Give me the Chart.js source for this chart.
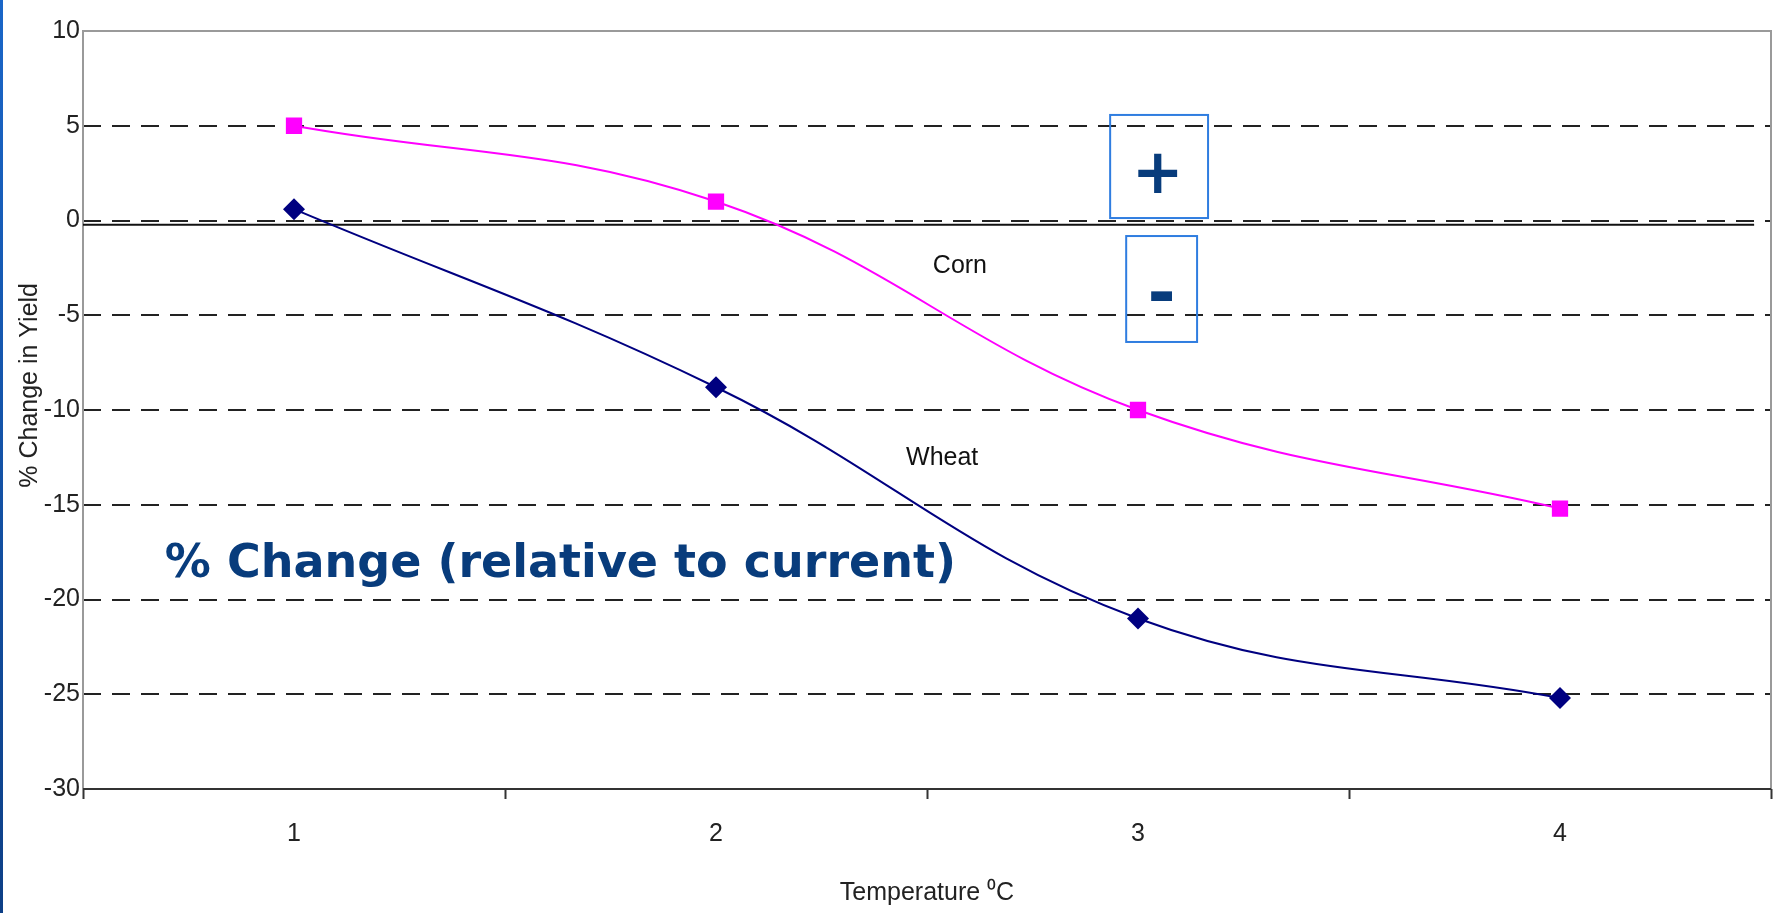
<!DOCTYPE html>
<html><head><meta charset="utf-8">
<script src="https://cdn.jsdelivr.net/npm/chart.js@4.4.1/dist/chart.umd.min.js"></script>
<style>
html,body{margin:0;padding:0;background:#fff;}
#wrap{position:relative;width:1784px;height:913px;}
#edge{position:absolute;left:0;top:0;width:3px;height:913px;background:linear-gradient(#1a66c8,#0d3f86);}
</style></head><body>
<div id="wrap"><canvas id="c"></canvas><div id="edge"></div></div>
<script>
// ---- data ----
const temperatures = ['1', '2', '3', '4'];
const cornChange = [5, 1, -10, -15.2];
const wheatChange = [0.6, -8.8, -21, -25.2];
const yMin = -30, yMax = 10, yStep = 5;
const xTitle = 'Temperature \u2070C';
const yTitle = '% Change in Yield';

const SANS = '"Liberation Sans", Arial, sans-serif';

// ---- annotations (in data units: x = category index, y = % change) ----
const textNotes = [
  {text: 'Corn', x: 1.578, y: -2.4, font: '25px ' + SANS, color: '#111', align: 'center'},
  {text: 'Wheat', x: 1.536, y: -12.53, font: '25px ' + SANS, color: '#111', align: 'center'},
  {text: '% Change (relative to current)', x: -0.306, y: -18.2, font: 'bold 46px "DejaVu Sans", Verdana, sans-serif', color: '#083c7c', align: 'left'},
  {text: '+', x: 2.047, y: 2.3, font: 'bold 62px "DejaVu Sans", sans-serif', color: '#083c7c', align: 'center'},
  {text: '-', x: 2.056, y: -4.1, font: 'bold 68px "DejaVu Sans", sans-serif', color: '#083c7c', align: 'center'}
];
const boxNotes = [
  {x0: 1.934, x1: 2.166, y0: 5.57, y1: 0.13},
  {x0: 1.972, x1: 2.140, y0: -0.82, y1: -6.41}
];
const zeroLine = {y: -0.22, x0: -0.5, x1: 3.46};
const yTitleCenter = -8.7;

const notesPlugin = {
  id: 'notes',
  beforeDatasetsDraw(chart) {
    const {ctx, chartArea: a, scales: {x, y}} = chart;
    ctx.save();
    ctx.lineWidth = 2;
    ctx.strokeStyle = '#9a9a9a';
    ctx.beginPath();
    ctx.moveTo(a.left, a.bottom); ctx.lineTo(a.left, a.top); ctx.lineTo(a.right, a.top); ctx.lineTo(a.right, a.bottom);
    ctx.stroke();
    ctx.strokeStyle = '#333';
    ctx.beginPath(); ctx.moveTo(a.left, a.bottom); ctx.lineTo(a.right, a.bottom); ctx.stroke();
    ctx.strokeStyle = '#111';
    ctx.beginPath();
    const zy = y.getPixelForValue(zeroLine.y);
    ctx.moveTo(x.getPixelForValue(zeroLine.x0), zy);
    ctx.lineTo(x.getPixelForValue(zeroLine.x1), zy);
    ctx.stroke();
    // y axis title
    ctx.translate(30, y.getPixelForValue(yTitleCenter));
    ctx.rotate(-Math.PI / 2);
    ctx.font = '25px ' + SANS;
    ctx.fillStyle = '#222';
    ctx.textAlign = 'center';
    ctx.textBaseline = 'middle';
    ctx.fillText(yTitle, 0, 0);
    ctx.restore();
  },
  afterDatasetsDraw(chart) {
    const {ctx, scales: {x, y}} = chart;
    ctx.save();
    ctx.lineWidth = 2;
    ctx.strokeStyle = '#2f7de0';
    boxNotes.forEach(b => {
      const px0 = x.getPixelForValue(b.x0), px1 = x.getPixelForValue(b.x1);
      const py0 = y.getPixelForValue(b.y0), py1 = y.getPixelForValue(b.y1);
      ctx.strokeRect(px0, py0, px1 - px0, py1 - py0);
    });
    ctx.textBaseline = 'middle';
    textNotes.forEach(t => {
      ctx.font = t.font;
      ctx.fillStyle = t.color;
      ctx.textAlign = t.align;
      ctx.fillText(t.text, x.getPixelForValue(t.x), y.getPixelForValue(t.y));
    });
    ctx.restore();
  }
};

new Chart(document.getElementById('c'), {
  type: 'line',
  data: {
    labels: temperatures,
    datasets: [
      {label: 'Corn', data: cornChange, borderColor: '#ff00ff', backgroundColor: '#ff00ff',
       borderWidth: 2, pointStyle: 'rect', pointRadius: 11.5, pointBorderWidth: 0, tension: 0.4},
      {label: 'Wheat', data: wheatChange, borderColor: '#000080', backgroundColor: '#000080',
       borderWidth: 2, pointStyle: 'rectRot', pointRadius: 11, pointBorderWidth: 0, tension: 0.4}
    ]
  },
  options: {
    responsive: true,
    maintainAspectRatio: false,
    animation: false,
    events: [],
    layout: {padding: {top: 31, right: 13, bottom: 0, left: 0}},
    plugins: {legend: {display: false}, tooltip: {enabled: false}},
    scales: {
      x: {
        offset: true,
        grid: {offset: true, drawOnChartArea: false, drawTicks: true, tickLength: 10, tickColor: '#333', tickWidth: 2},
        border: {display: false},
        ticks: {color: '#222', padding: 20, font: {family: SANS, size: 25}},
        title: {display: true, text: xTitle, color: '#222', padding: {top: 0, bottom: 5}, font: {family: SANS, size: 25}},
        afterFit(s) { s.height = 124; }
      },
      y: {
        min: yMin, max: yMax,
        grid: {
          drawTicks: false, lineWidth: 2,
          color: c => (c.tick && (c.tick.value === yMax || c.tick.value === yMin)) ? 'rgba(0,0,0,0)' : '#222'
        },
        border: {display: false, dash: [18, 11]},
        ticks: {stepSize: yStep, color: '#222', padding: 3, font: {family: SANS, size: 25}},
        afterFit(s) { s.width = 83; }
      }
    }
  },
  plugins: [notesPlugin]
});
</script>
</body></html>
